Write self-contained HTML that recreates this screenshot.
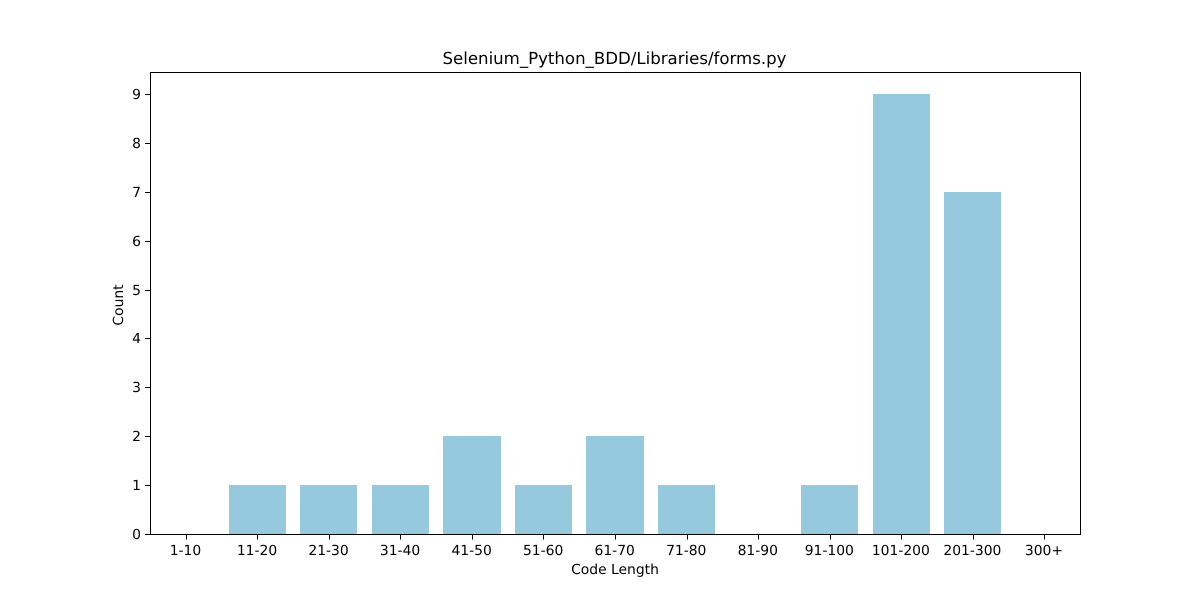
<!DOCTYPE html>
<html>
<head>
<meta charset="utf-8">
<title>Code Length Histogram</title>
<style>
html,body{margin:0;padding:0;background:#fff;}
svg{display:block;}
text{font-family:"DejaVu Sans",sans-serif;fill:#000;}
</style>
</head>
<body>
<svg id="chart" xmlns="http://www.w3.org/2000/svg" width="1200" height="600" viewBox="0 0 1200 600" shape-rendering="crispEdges">
<rect x="0" y="0" width="1200" height="600" fill="#fff"/>
<g id="bars"></g>
<g id="x-ticks"></g>
<g id="y-ticks"></g>
<rect x="150.5" y="72.5" width="930" height="462" fill="none" stroke="#000" stroke-width="1"/>
<text x="614.5" y="64" font-size="16.58" text-anchor="middle" text-rendering="geometricPrecision">Selenium_Python_BDD/Libraries/forms.py</text>
<text x="615" y="574" font-size="13.89" text-anchor="middle" text-rendering="geometricPrecision">Code Length</text>
<text transform="translate(123,305) rotate(-90)" font-size="13.89" text-anchor="middle" text-rendering="geometricPrecision">Count</text>
</svg>
<script>
const categories = ["1-10","11-20","21-30","31-40","41-50","51-60","61-70","71-80","81-90","91-100","101-200","201-300","300+"];
const counts = [0,1,1,1,2,1,2,1,0,1,9,7,0];
const yTicks = [0,1,2,3,4,5,6,7,8,9];

const NS = "http://www.w3.org/2000/svg";
const plot = {left:150, right:1080, top:72, bottom:534};
const xMin = -0.5, xMax = categories.length - 0.5;
const yMin = 0, yMax = Math.max.apply(null, counts) * 1.05;
const barWidth = 0.8;

function xScale(v){ return plot.left + (v - xMin) / (xMax - xMin) * (plot.right - plot.left); }
function yScale(v){ return plot.bottom - (v - yMin) / (yMax - yMin) * (plot.bottom - plot.top); }
function make(tag, attrs){
  const el = document.createElementNS(NS, tag);
  for (const k in attrs) el.setAttribute(k, attrs[k]);
  return el;
}

const barsG = document.getElementById("bars");
const xG = document.getElementById("x-ticks");
const yG = document.getElementById("y-ticks");

categories.forEach(function(cat, i){
  const x0 = Math.round(xScale(i - barWidth / 2));
  const x1 = Math.round(xScale(i + barWidth / 2));
  const yTop = Math.round(yScale(counts[i]));
  const bar = make("rect", {x:x0, y:yTop, width:x1 - x0, height:Math.max(0, plot.bottom - yTop), fill:"#96c9dd"});
  
  
  barsG.appendChild(bar);

  const tx = Math.round(xScale(i)) + 0.5;
  const tick = make("line", {x1:tx, x2:tx, y1:plot.bottom, y2:plot.bottom + 5.5, stroke:"#000", "stroke-width":1});
  
  
  xG.appendChild(tick);

  const label = make("text", {x:xScale(i) - 0.3, y:555, "font-size":13.89, "text-anchor":"middle", "text-rendering":"geometricPrecision"});
  
  
  label.textContent = cat;
  xG.appendChild(label);
});

yTicks.forEach(function(v){
  const ty = Math.round(yScale(v)) + 0.5;
  const tick = make("line", {x1:plot.left - 5, x2:plot.left, y1:ty, y2:ty, stroke:"#000", "stroke-width":1});
  
  
  yG.appendChild(tick);

  const label = make("text", {x:141, y:ty + 4.5, "font-size":13.89, "text-anchor":"end", "text-rendering":"geometricPrecision"});
  
  
  label.textContent = v;
  yG.appendChild(label);
});
</script>
</body>
</html>
